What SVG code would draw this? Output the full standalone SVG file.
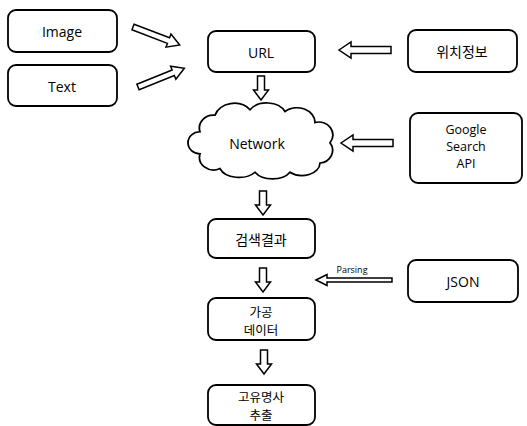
<svg xmlns="http://www.w3.org/2000/svg" width="527" height="426" viewBox="0 0 527 426">
<style>
.box{fill:#fff;stroke:#000;stroke-width:1.8}
.arr{fill:#fff;stroke:#000;stroke-width:1.5;stroke-linejoin:miter}
.t{font-family:"Open Sans","Noto Sans CJK KR",sans-serif;font-size:14px;fill:#000;text-anchor:middle;dominant-baseline:central}
.g{font-family:"Open Sans",sans-serif;font-size:12.5px;fill:#000;text-anchor:middle;dominant-baseline:central}
.k{font-family:"Noto Sans CJK KR","Open Sans",sans-serif;font-size:14px;fill:#000;text-anchor:middle;dominant-baseline:central}
.k2{font-family:"Noto Sans CJK KR","Open Sans",sans-serif;font-size:12.5px;fill:#000;text-anchor:middle;dominant-baseline:central}
.s{font-family:"Open Sans",sans-serif;font-size:9px;fill:#000;text-anchor:middle;dominant-baseline:central}
</style>
<defs>
<polygon id="down" class="arr" points="-3.5,0 3.5,0 3.5,14 7.5,14 0,24 -7.5,14 -3.5,14"/>
<polygon id="left" class="arr" points="0,0 12,-8 12,-3.5 52,-3.5 52,3.5 12,3.5 12,8"/>
<polygon id="right" class="arr" points="0,-3 38,-3 38,-7 50,0 38,7 38,3 0,3"/>
<polygon id="leftThin" class="arr" points="0,0 11,-5.5 11,-2 76,-2 76,2 11,2 11,5.5"/>
</defs>
<g id="connectors">
<use href="#right" transform="translate(133,27) rotate(21)"/>
<use href="#right" transform="translate(138,87) rotate(-22)"/>
<use href="#left" transform="translate(339,50)"/>
<use href="#down" transform="translate(261,76)"/>
<use href="#left" transform="translate(341,143)"/>
<use href="#down" transform="translate(263,191)"/>
<use href="#down" transform="translate(263,268)"/>
<use href="#leftThin" transform="translate(316,280)"/>
<text class="s" x="352" y="269">Parsing</text>
<use href="#down" transform="translate(264,350)"/>
</g>
<g id="image"><rect class="box" x="8" y="10" width="109" height="42" rx="8"/><text class="t" x="62" y="31">Image</text></g>
<g id="text"><rect class="box" x="8" y="65" width="109" height="41" rx="8"/><text class="t" x="62" y="86">Text</text></g>
<g id="url"><rect class="box" x="208" y="31" width="107" height="41" rx="8"/><text class="t" x="261" y="52">URL</text></g>
<g id="location"><rect class="box" x="408" y="30" width="109" height="42" rx="8"/><text class="k" x="462" y="51">위치정보</text></g>
<g id="network">
<path class="box" transform="translate(0,14) scale(1,0.92)" d="M 200 128 A 14 14 0 0 1 215 110 A 20 18 0 0 1 250 104 A 20 16 0 0 1 285 106 A 18 16 0 0 1 315 118 A 14 14 0 0 1 330 140 A 14 14 0 0 1 320 162 A 18 14 0 0 1 290 172 A 20 14 0 0 1 255 172 A 20 14 0 0 1 220 168 A 14 14 0 0 1 200 152 A 12 12 0 0 1 200 128 Z"/>
<text class="t" x="257" y="143">Network</text>
</g>
<g id="google"><rect class="box" x="410" y="113" width="112" height="70" rx="8"/>
<text class="g" x="466" y="129">Google</text><text class="g" x="466" y="146">Search</text><text class="g" x="466" y="163">API</text></g>
<g id="result"><rect class="box" x="208" y="219" width="107" height="39" rx="8"/><text class="k" x="261" y="239">검색결과</text></g>
<g id="json"><rect class="box" x="408" y="260" width="110" height="42" rx="8"/><text class="t" x="463" y="281">JSON</text></g>
<g id="processed"><rect class="box" x="208" y="298" width="107" height="42" rx="8"/><text class="k2" x="261" y="311">가공</text><text class="k2" x="261" y="329">데이터</text></g>
<g id="noun"><rect class="box" x="208" y="385" width="107" height="40" rx="8"/><text class="k2" x="261" y="396">고유명사</text><text class="k2" x="261" y="414">추출</text></g>
</svg>
